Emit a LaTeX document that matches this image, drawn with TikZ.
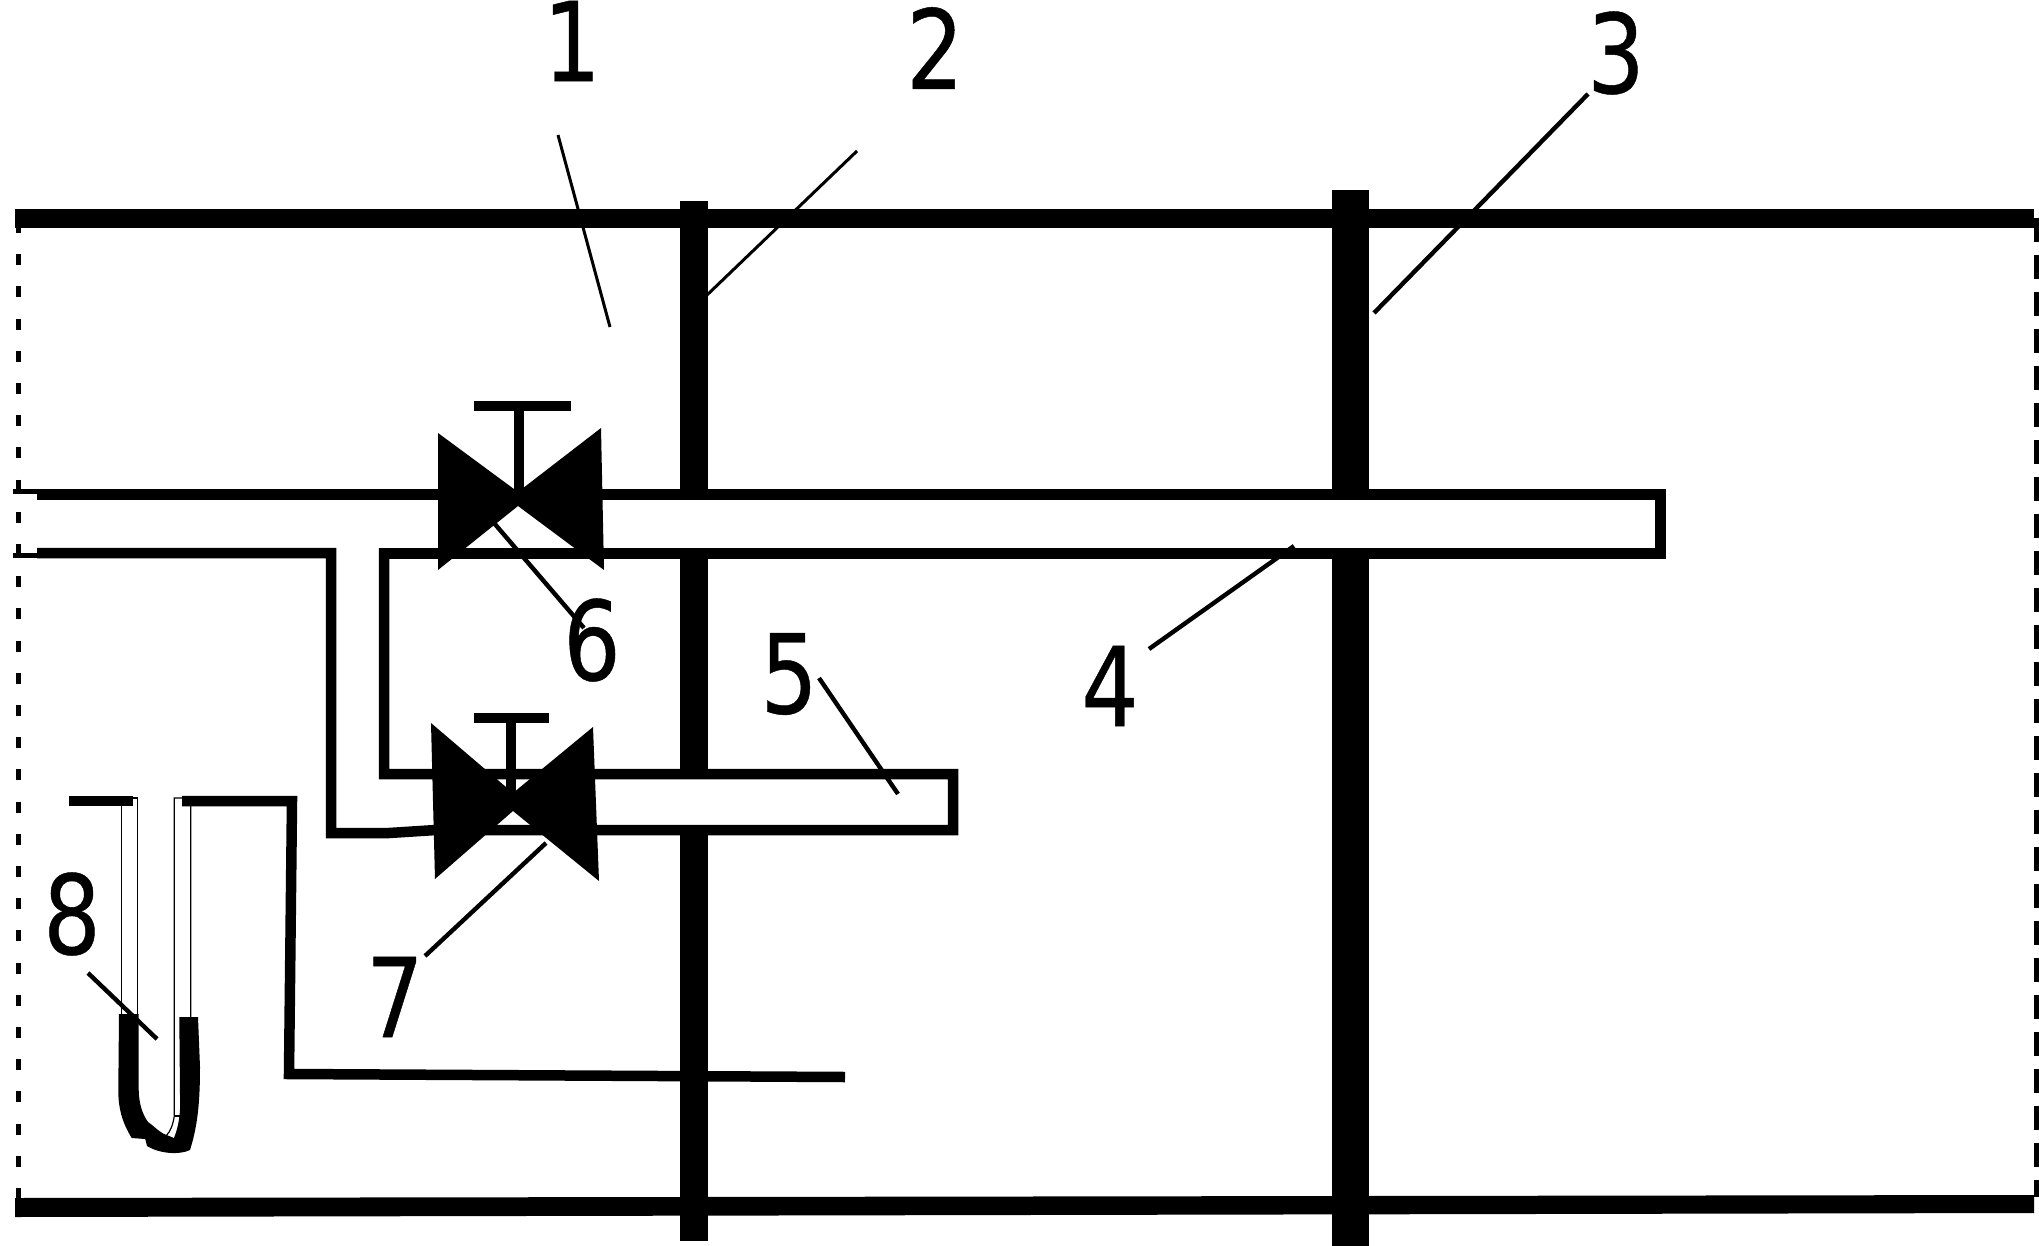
\documentclass[tikz,border=0pt]{standalone}
\usepackage{fontspec}
\setmainfont{DejaVu Sans}[FakeStretch=0.82,FakeBold=0.4]
\tikzset{
  pipe/.style={draw=black,line width=5.25pt,line join=miter,line cap=butt},
  bar/.style={fill=black,draw=none},
  valvebody/.style={fill=black,draw=none},
  leader/.style={draw=black,line width=2.2pt},
  thinleader/.style={draw=black,line width=1.5pt},
  tube/.style={draw=black,line width=0.6pt},
  num/.style={inner sep=0pt,font=\fontsize{55pt}{55pt}\selectfont,text=black},
}
\begin{document}
\begin{tikzpicture}[x=0.5pt,y=-0.5pt]
\useasboundingbox (0,0) rectangle (2039,1246);
% walls
\draw[draw=black,line width=2.5pt,dash pattern=on 5.5pt off 10.6pt] (18.5,222) -- (18.5,1198);
\draw[draw=black,line width=2.5pt,dash pattern=on 12pt off 6.5pt] (2036.5,218) -- (2036.5,1197);
\fill[bar] (15,209) rectangle (2034,228);
\fill[bar] (15,1198) -- (2034,1195) -- (2034,1213) -- (15,1217) -- cycle;
\fill[bar] (680,201) rectangle (708,1241);
\fill[bar] (1332,190) rectangle (1369,1246);
% pipe interiors
\fill[white] (600,500) rectangle (1655,548);
\fill[white] (600,779) rectangle (948,825);
% pipe 4
\draw[pipe,line width=5.5pt] (37,494.5) -- (1660,494.5) -- (1660,553) -- (379,553);
\draw[pipe] (37,553) -- (331,553) -- (331,833) -- (389,833) -- (436,830) -- (953,830) -- (953,774) -- (384,774) -- (384,548);
\draw[draw=black,line width=2.5pt] (13,491.5) -- (37,491.5);
\draw[draw=black,line width=2.5pt] (13,555.5) -- (37,555.5);
% valve 6
\coordinate (v6a) at (519,411);
\coordinate (v6b) at (519,491);
\fill[valvebody] (438,433) -- (518,492) -- (601,428) -- (604,570) -- (518,506) -- (438,570) -- cycle;
\draw[draw=black,line width=4.6pt] (v6a) -- (v6b);
\fill[bar] (474,401) rectangle (571,411);
% valve 7
\coordinate (v7a) at (511,722);
\coordinate (v7b) at (511,795);
\fill[valvebody] (431,723) -- (513,793) -- (593,727) -- (599,881) -- (513,811) -- (435,879) -- cycle;
\draw[draw=black,line width=4.6pt] (v7a) -- (v7b);
\fill[bar] (474,713) rectangle (549,723);
% pipe to U tube
\draw[pipe] (69,801) -- (133,801);
\draw[pipe] (182,801) -- (292,801) -- (289,1074) -- (845,1077);
% U tube
\draw[tube] (121.3,1115) -- (121.3,798) -- (137.3,798) -- (137.3,1020);
\draw[tube] (190.7,1020) -- (190.7,798) -- (174.3,798) -- (174.3,1116) .. controls (173,1125) and (170,1132) .. (166.7,1135);
\draw[tube] (122,1115) -- (126,1115);
\draw[tube] (174.3,1116) -- (180,1116);
\fill[bar] (119,1014) -- (138.7,1014) -- (138.7,1090)
  .. controls (139,1105) and (143,1115) .. (148,1122)
  .. controls (154,1126) and (160,1133) .. (166.7,1135) -- (174,1138)
  .. controls (178,1128) and (181,1115) .. (180,1095) -- (179.3,1017) -- (198,1017) -- (200,1067)
  .. controls (200,1100) and (198,1125) .. (190,1150)
  .. controls (180,1155) and (160,1154) .. (147,1146) -- (145.3,1139) -- (131.7,1138)
  .. controls (127,1130) and (118,1115) .. (118.3,1090) -- cycle;
% labels
\node[num] (n1) at (572,41) {1};
\node[num] (n2) at (935,48) {2};
\node[num] (n3) at (1616,53) {3};
\node[num] (n4) at (1110,686) {4};
\node[num] (n5) at (789,674) {5};
\node[num] (n6) at (592,640) {6};
\node[num] (n7) at (395,997) {7};
\node[num] (n8) at (72,914) {8};
% leaders
\coordinate (a1) at (558,135); \coordinate (b1) at (610,327);
\coordinate (a2) at (857,151); \coordinate (b2) at (706,296);
\coordinate (a3) at (1588,94); \coordinate (b3) at (1374,313);
\coordinate (a4) at (1149,649); \coordinate (b4) at (1294,546);
\coordinate (a5) at (819,678); \coordinate (b5) at (898,794);
\coordinate (a6) at (494,523); \coordinate (b6) at (584,628);
\coordinate (a7) at (425,956); \coordinate (b7) at (546,843);
\coordinate (a8) at (88,973); \coordinate (b8) at (157,1039);
\draw[thinleader] (a1) -- (b1);
\draw[thinleader] (a2) -- (b2);
\draw[leader] (a3) -- (b3);
\draw[leader] (a4) -- (b4);
\draw[leader] (a5) -- (b5);
\draw[leader] (a6) -- (b6);
\draw[leader] (a7) -- (b7);
\draw[leader] (a8) -- (b8);
\end{tikzpicture}
\end{document}
